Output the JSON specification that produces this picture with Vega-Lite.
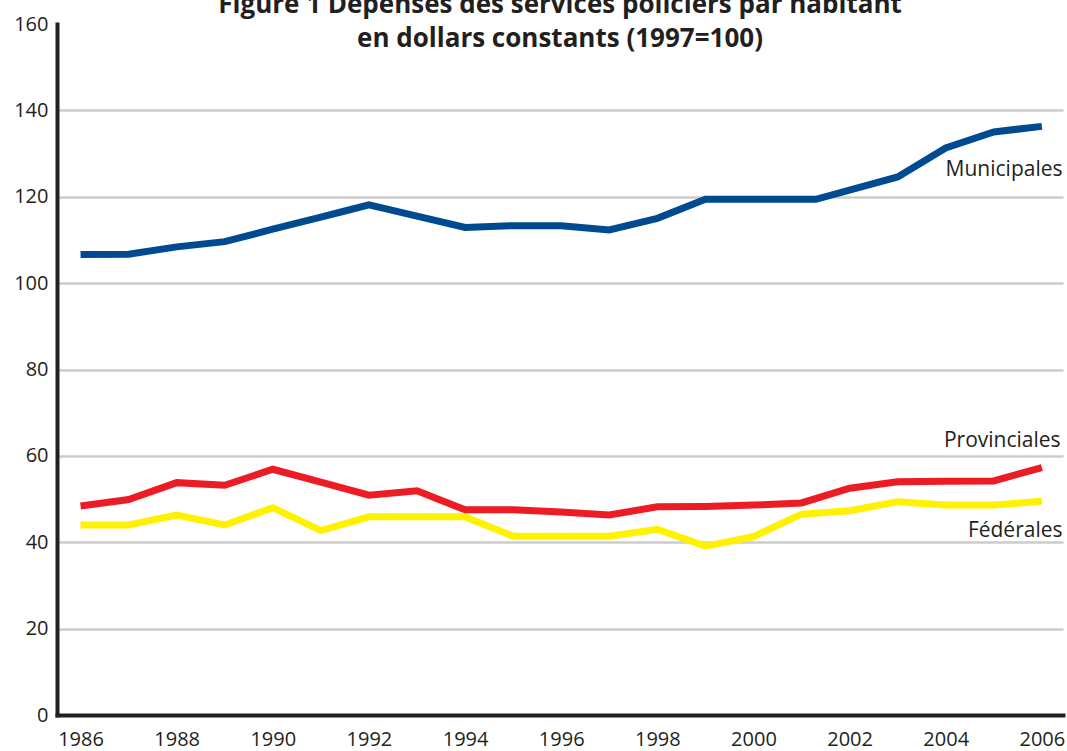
{
  "$schema": "https://vega.github.io/schema/vega-lite/v6.json",
  "width": 1006,
  "height": 691,
  "autosize": {"type": "none"},
  "padding": {"left": 57, "top": 24, "right": 4, "bottom": 36},
  "background": "white",
  "title": {
    "text": ["Figure 1  Dépenses des services policiers par habitant", "en dollars constants (1997=100)"],
    "font": "Open Sans",
    "fontSize": 26,
    "fontWeight": "bold",
    "color": "#231f20",
    "anchor": "middle",
    "frame": "group",
    "lineHeight": 34,
    "offset": -38
  },
  "config": {"view": {"stroke": null}, "font": "Open Sans"},
  "layer": [
    {
      "data": {
        "values": [
          {"series": "Fédérales", "year": 1986, "value": 44.0},
          {"series": "Fédérales", "year": 1987, "value": 44.0},
          {"series": "Fédérales", "year": 1988, "value": 46.3},
          {"series": "Fédérales", "year": 1989, "value": 44.0},
          {"series": "Fédérales", "year": 1990, "value": 48.0},
          {"series": "Fédérales", "year": 1991, "value": 42.7},
          {"series": "Fédérales", "year": 1992, "value": 45.9},
          {"series": "Fédérales", "year": 1993, "value": 45.9},
          {"series": "Fédérales", "year": 1994, "value": 45.9},
          {"series": "Fédérales", "year": 1995, "value": 41.4},
          {"series": "Fédérales", "year": 1996, "value": 41.4},
          {"series": "Fédérales", "year": 1997, "value": 41.4},
          {"series": "Fédérales", "year": 1998, "value": 43.0},
          {"series": "Fédérales", "year": 1999, "value": 39.1},
          {"series": "Fédérales", "year": 2000, "value": 41.3},
          {"series": "Fédérales", "year": 2001, "value": 46.5},
          {"series": "Fédérales", "year": 2002, "value": 47.3},
          {"series": "Fédérales", "year": 2003, "value": 49.4},
          {"series": "Fédérales", "year": 2004, "value": 48.6},
          {"series": "Fédérales", "year": 2005, "value": 48.6},
          {"series": "Fédérales", "year": 2006, "value": 49.5},
          {"series": "Provinciales", "year": 1986, "value": 48.4},
          {"series": "Provinciales", "year": 1987, "value": 49.9},
          {"series": "Provinciales", "year": 1988, "value": 53.8},
          {"series": "Provinciales", "year": 1989, "value": 53.2},
          {"series": "Provinciales", "year": 1990, "value": 56.9},
          {"series": "Provinciales", "year": 1991, "value": 53.9},
          {"series": "Provinciales", "year": 1992, "value": 50.9},
          {"series": "Provinciales", "year": 1993, "value": 51.9},
          {"series": "Provinciales", "year": 1994, "value": 47.5},
          {"series": "Provinciales", "year": 1995, "value": 47.5},
          {"series": "Provinciales", "year": 1996, "value": 47.0},
          {"series": "Provinciales", "year": 1997, "value": 46.3},
          {"series": "Provinciales", "year": 1998, "value": 48.2},
          {"series": "Provinciales", "year": 1999, "value": 48.3},
          {"series": "Provinciales", "year": 2000, "value": 48.6},
          {"series": "Provinciales", "year": 2001, "value": 49.1},
          {"series": "Provinciales", "year": 2002, "value": 52.5},
          {"series": "Provinciales", "year": 2003, "value": 54.0},
          {"series": "Provinciales", "year": 2004, "value": 54.1},
          {"series": "Provinciales", "year": 2005, "value": 54.2},
          {"series": "Provinciales", "year": 2006, "value": 57.3},
          {"series": "Municipales", "year": 1986, "value": 106.6},
          {"series": "Municipales", "year": 1987, "value": 106.7},
          {"series": "Municipales", "year": 1988, "value": 108.4},
          {"series": "Municipales", "year": 1989, "value": 109.6},
          {"series": "Municipales", "year": 1990, "value": 112.5},
          {"series": "Municipales", "year": 1991, "value": 115.3},
          {"series": "Municipales", "year": 1991.5, "value": 116.7},
          {"series": "Municipales", "year": 1992, "value": 118.1},
          {"series": "Municipales", "year": 1993, "value": 115.5},
          {"series": "Municipales", "year": 1994, "value": 112.9},
          {"series": "Municipales", "year": 1995, "value": 113.3},
          {"series": "Municipales", "year": 1996, "value": 113.3},
          {"series": "Municipales", "year": 1997, "value": 112.3},
          {"series": "Municipales", "year": 1998, "value": 115.0},
          {"series": "Municipales", "year": 1999, "value": 119.4},
          {"series": "Municipales", "year": 2000, "value": 119.4},
          {"series": "Municipales", "year": 2001.3, "value": 119.4},
          {"series": "Municipales", "year": 2003, "value": 124.6},
          {"series": "Municipales", "year": 2004, "value": 131.3},
          {"series": "Municipales", "year": 2005, "value": 135.0},
          {"series": "Municipales", "year": 2006, "value": 136.3}
        ]
      },
      "mark": {"type": "line", "strokeWidth": 7, "strokeCap": "butt", "strokeJoin": "miter"},
      "encoding": {
        "x": {
          "field": "year",
          "type": "quantitative",
          "scale": {"domain": [1985.51, 2006.44], "nice": false, "zero": false},
          "axis": {
            "values": [1986, 1988, 1990, 1992, 1994, 1996, 1998, 2000, 2002, 2004, 2006],
            "format": "d",
            "title": null,
            "grid": false,
            "ticks": false,
            "domainColor": "#231f20",
            "domainWidth": 4,
            "domainCap": "square",
            "labelFont": "Open Sans",
            "labelFontSize": 20,
            "labelColor": "#231f20",
            "labelPadding": 14,
            "labelFlush": false,
            "labelOverlap": false
          }
        },
        "y": {
          "field": "value",
          "type": "quantitative",
          "scale": {"domain": [0, 160], "nice": false},
          "axis": {
            "values": [0, 20, 40, 60, 80, 100, 120, 140, 160],
            "title": null,
            "grid": true,
            "gridColor": "#cccccc",
            "gridWidth": 2.5,
            "gridOpacity": {"condition": {"test": "datum.value == 160", "value": 0}, "value": 1},
            "ticks": false,
            "domainColor": "#231f20",
            "domainWidth": 4,
            "domainCap": "square",
            "labelFont": "Open Sans",
            "labelFontSize": 20,
            "labelColor": "#231f20",
            "labelPadding": 9,
            "labelFlush": false,
            "labelOverlap": false
          }
        },
        "color": {
          "field": "series",
          "type": "nominal",
          "scale": {"domain": ["Fédérales", "Provinciales", "Municipales"], "range": ["#fff200", "#ed1c24", "#004a92"]},
          "legend": null
        }
      }
    },
    {
      "data": {
        "values": [
          {"series": "Municipales", "year": 2006.43, "value": 124.8},
          {"series": "Provinciales", "year": 2006.39, "value": 62.1},
          {"series": "Fédérales", "year": 2006.43, "value": 41.3}
        ]
      },
      "mark": {"type": "text", "align": "right", "baseline": "alphabetic", "font": "Open Sans", "fontSize": 21, "color": "#231f20"},
      "encoding": {
        "x": {"field": "year", "type": "quantitative"},
        "y": {"field": "value", "type": "quantitative"},
        "text": {"field": "series"}
      }
    }
  ]
}
